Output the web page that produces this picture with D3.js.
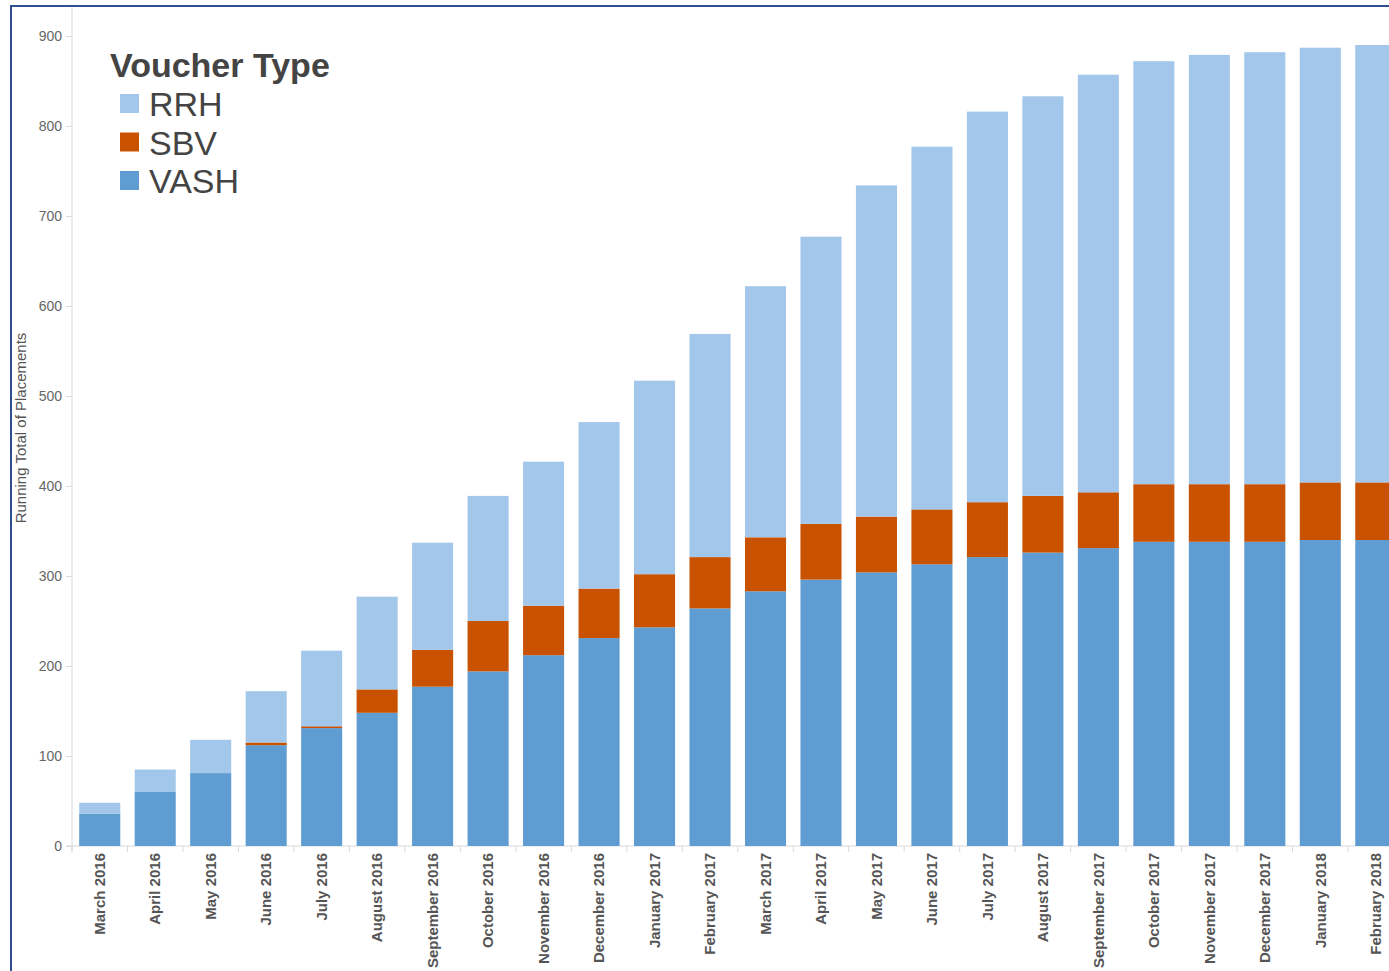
<!DOCTYPE html>
<html>
<head>
<meta charset="utf-8">
<script src="https://cdn.jsdelivr.net/npm/d3@7"></script>
<style>
  body { margin: 0; background: #fff; }
  text { font-family: "Liberation Sans", Arial, sans-serif; }
</style>
</head>
<body>
<script>
const w = 1389;
const h = 971;

const months = ["March 2016","April 2016","May 2016","June 2016","July 2016","August 2016",
  "September 2016","October 2016","November 2016","December 2016","January 2017","February 2017",
  "March 2017","April 2017","May 2017","June 2017","July 2017","August 2017","September 2017",
  "October 2017","November 2017","December 2017","January 2018","February 2018"];
const vash = [36,60,81,112,131,148,177,194,212,231,243,264,283,296,304,313,321,326,331,338,338,338,340,340];
const sbv  = [0,0,0,3,2,26,41,56,55,55,59,57,60,62,62,61,61,63,62,64,64,64,64,64];
const rrh  = [12,25,37,57,84,103,119,139,160,185,215,248,279,319,368,403,434,444,464,470,477,480,483,486];
const yTicks = [0,100,200,300,400,500,600,700,800,900];
const types = ["VASH","SBV","RRH"];
const colors = {RRH: "#a2c7ea", SBV: "#c85200", VASH: "#5e9cd2"};

const rows = months.map((m, i) => ({month: m, VASH: vash[i], SBV: sbv[i], RRH: rrh[i]}));
const stack = d3.stack().keys(types)(rows);

const svg = d3.select("body").append("svg")
  .attr("width", w)
  .attr("height", h);

// frame
svg.append("rect")
  .attr("x", 11).attr("y", 6)
  .attr("width", w + 20).attr("height", h + 20)
  .attr("fill", "none")
  .attr("stroke", "#2d4f8e")
  .attr("stroke-width", 2);

const x = d3.scaleBand()
  .domain(months)
  .range([72, 72 + 24 * 55.48])
  .paddingInner(0.26)
  .paddingOuter(0.13);

const y = d3.scaleLinear()
  .domain([0, 900])
  .range([846, 36]);

// axis lines
svg.append("line")
  .attr("x1", 72).attr("x2", 72).attr("y1", 7).attr("y2", 852)
  .attr("stroke", "#d9d9d9");
svg.append("line")
  .attr("x1", 66).attr("x2", w).attr("y1", 846).attr("y2", 846)
  .attr("stroke", "#d9d9d9");

// bars
svg.selectAll("g.layer")
  .data(stack)
  .enter()
  .append("g")
  .attr("class", "layer")
  .attr("fill", d => colors[d.key])
  .selectAll("rect")
  .data(d => d)
  .enter()
  .append("rect")
  .attr("x", d => x(d.data.month))
  .attr("y", d => y(d[1]))
  .attr("width", x.bandwidth())
  .attr("height", d => y(d[0]) - y(d[1]));

// y axis
const yAxis = d3.axisLeft(y).tickValues(yTicks).tickSize(6).tickPadding(4);
const gy = svg.append("g").attr("transform", "translate(72,0)").call(yAxis);
gy.select(".domain").remove();
gy.selectAll(".tick line").attr("stroke", "#d9d9d9");
gy.selectAll(".tick text")
  .attr("fill", "#666")
  .style("font-size", "14px");

// x axis
const xAxis = d3.axisBottom(x).tickSize(0).tickPadding(6);
const gx = svg.append("g").attr("transform", "translate(0,846)").call(xAxis);
gx.select(".domain").remove();
gx.selectAll(".tick text")
  .attr("transform", "rotate(-90)")
  .attr("text-anchor", "end")
  .attr("x", -7)
  .attr("y", 0)
  .attr("dy", "0.35em")
  .attr("fill", "#555")
  .style("font-size", "15px")
  .style("font-weight", "bold");

// ticks between bands
svg.selectAll("line.sep")
  .data(months)
  .enter()
  .append("line")
  .attr("class", "sep")
  .attr("x1", d => x(d) - x.step() * x.paddingInner() / 2)
  .attr("x2", d => x(d) - x.step() * x.paddingInner() / 2)
  .attr("y1", 846).attr("y2", 852)
  .attr("stroke", "#d9d9d9");

// y title
svg.append("text")
  .attr("transform", "translate(26,428) rotate(-90)")
  .attr("text-anchor", "middle")
  .attr("fill", "#555")
  .style("font-size", "15px")
  .text("Running Total of Placements");

// legend
svg.append("text")
  .attr("x", 110).attr("y", 77)
  .attr("fill", "#444")
  .style("font-size", "34px")
  .style("font-weight", "bold")
  .text("Voucher Type");

const legend = ["RRH","SBV","VASH"];
const lg = svg.selectAll("g.leg")
  .data(legend)
  .enter()
  .append("g")
  .attr("transform", (d, i) => "translate(120," + (94 + i * 38.5) + ")");
lg.append("rect")
  .attr("width", 19).attr("height", 19)
  .attr("fill", d => colors[d]);
lg.append("text")
  .attr("x", 29).attr("y", 22)
  .attr("fill", "#444")
  .style("font-size", "34px")
  .text(d => d);
</script>
</body>
</html>
